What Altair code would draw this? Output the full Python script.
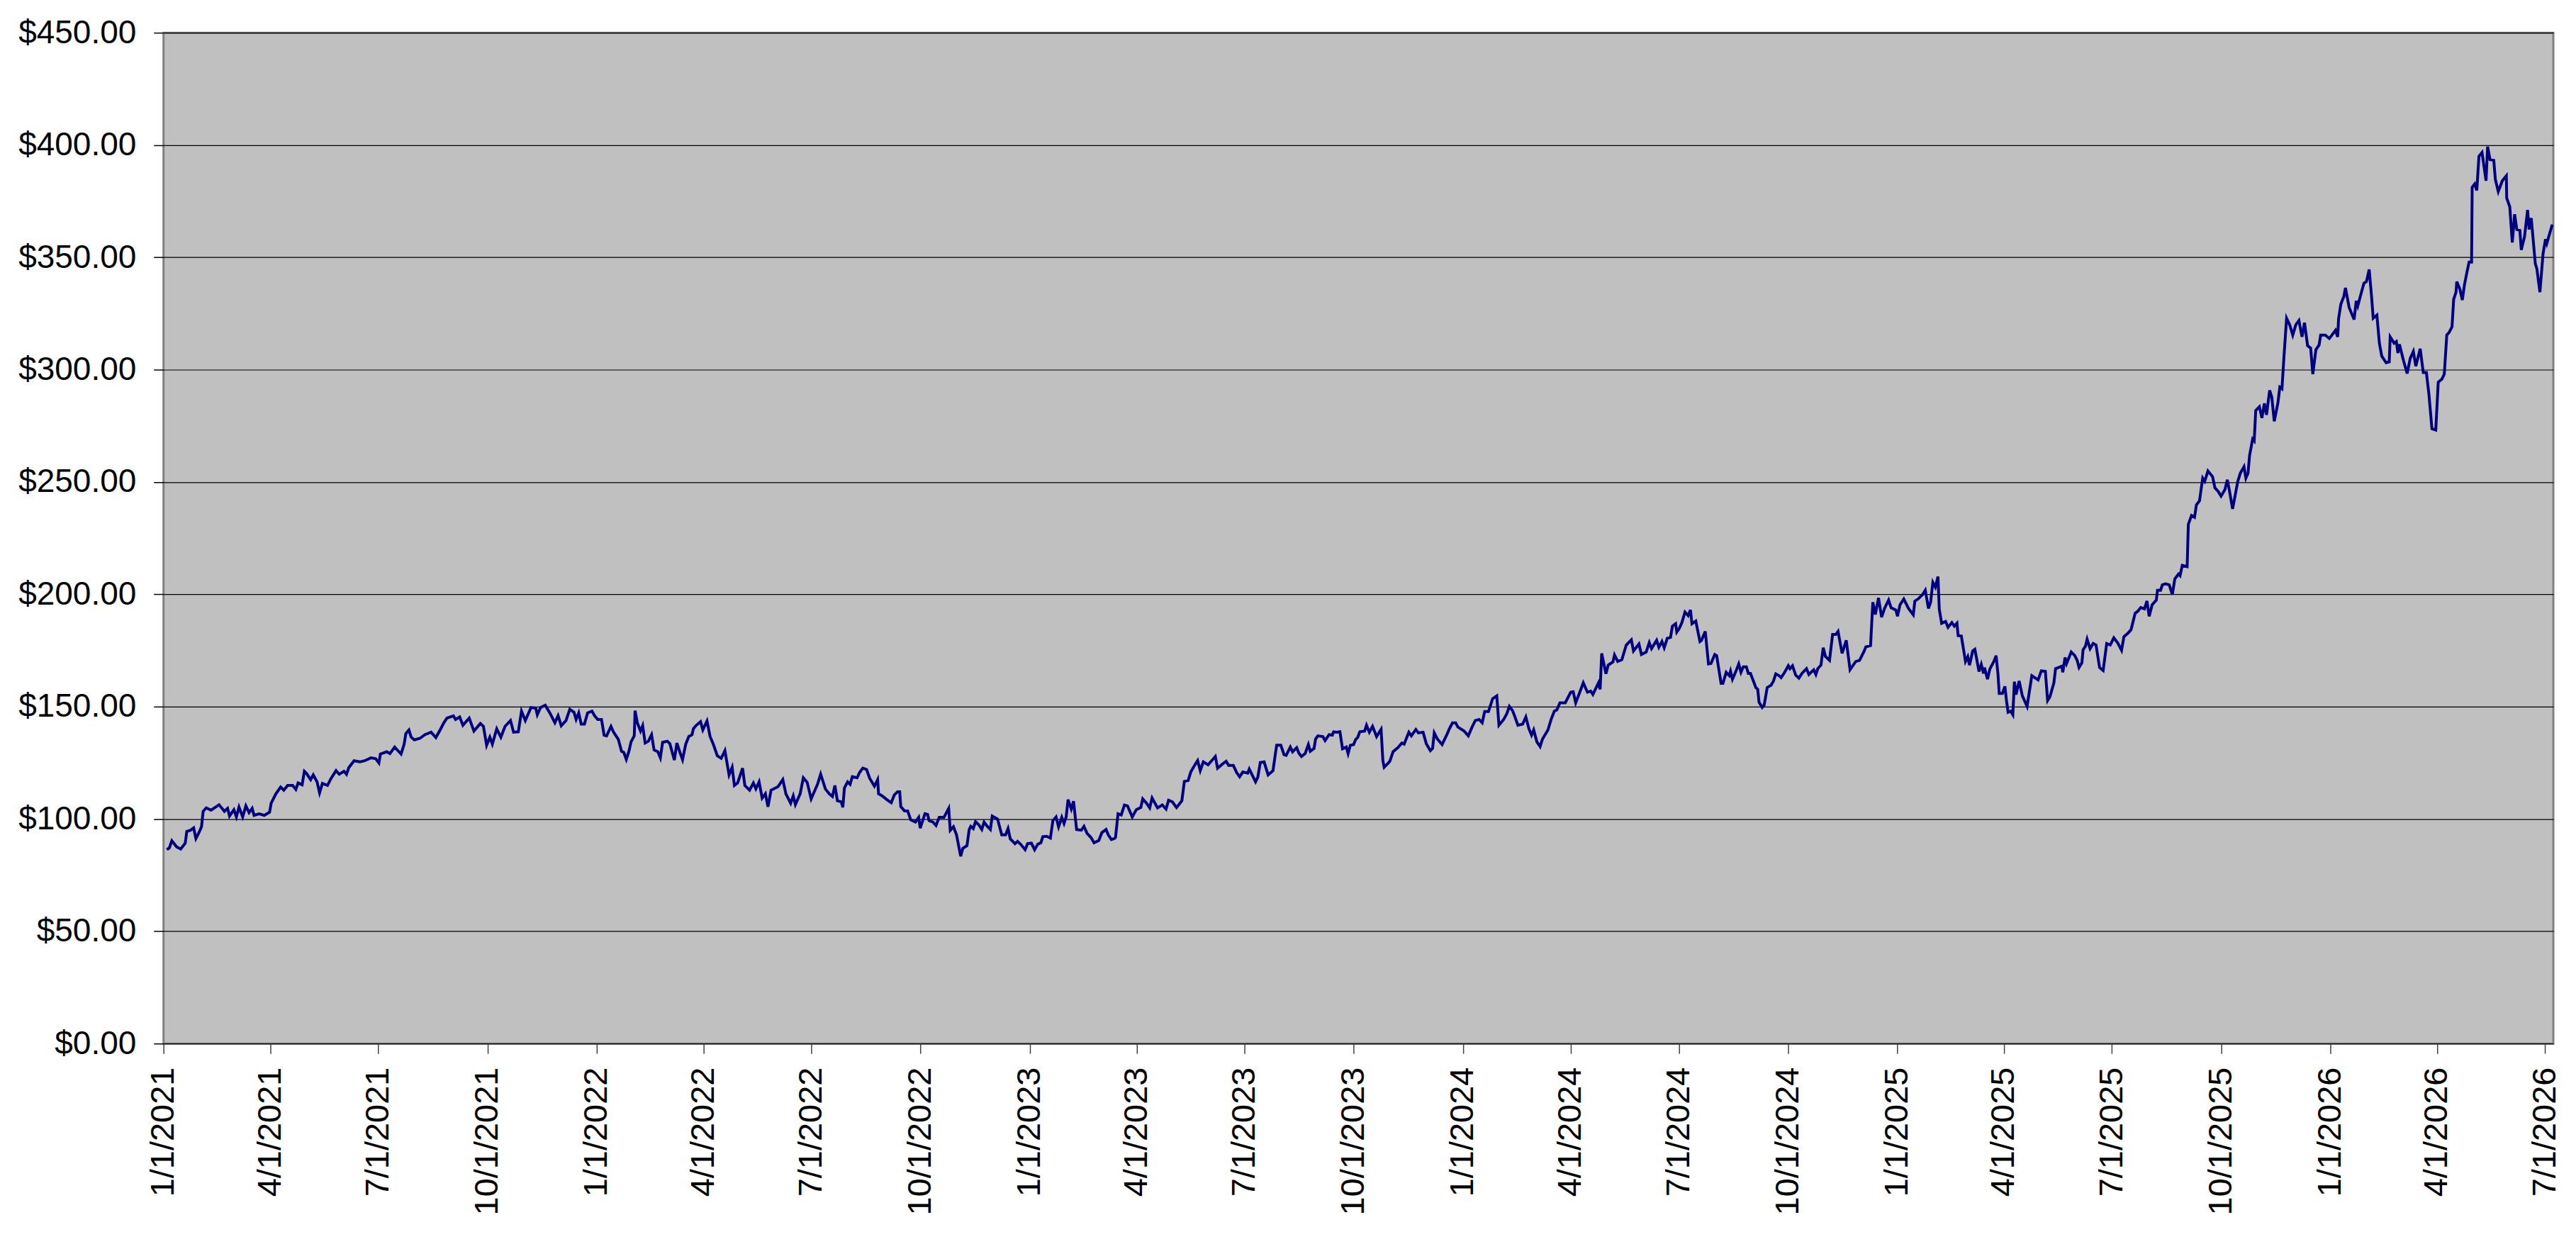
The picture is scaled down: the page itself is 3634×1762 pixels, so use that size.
import altair as alt
import pandas as pd

# (days since 1/1/2021, closing price), segment by segment
seg_2021 = [
    (2.8, 86.3), (4.9, 87.1), (7.0, 90.3), (11.0, 87.6), (14.5, 86.6), (18.3, 89.2), (19.6, 94.4),
    (22.8, 95.0), (25.4, 96.0), (27.3, 91.3), (29.4, 93.4), (32.0, 96.5), (33.4, 103.4), (36.0, 104.9),
    (40.0, 103.9), (46.8, 106.3), (51.3, 103.4), (54.0, 104.7), (55.6, 101.3), (59.3, 104.1),
    (61.4, 100.9), (63.6, 105.3), (66.7, 100.9), (69.4, 105.8), (72.1, 102.8), (74.7, 104.7),
    (76.3, 101.6), (80.6, 102.3), (84.9, 101.6), (89.4, 103.0), (90.7, 107.0), (94.7, 111.2),
    (98.7, 114.2), (101.4, 112.8), (104.6, 114.9), (108.8, 114.9), (111.5, 113.1), (113.4, 116.0),
    (116.8, 115.2), (118.7, 121.2), (120.6, 120.2), (124.0, 117.5), (126.2, 119.6), (129.4, 116.5),
    (131.5, 111.6), (133.9, 115.8), (138.2, 114.9), (140.9, 117.8), (145.4, 121.5), (148.1, 119.9),
    (152.1, 121.2), (154.2, 119.9), (156.1, 122.8), (160.6, 125.9), (165.4, 125.4), (169.5, 125.9),
    (174.8, 127.2), (178.8, 126.8), (181.5, 124.9), (182.8, 128.9), (188.1, 129.9), (190.8, 129.1),
    (194.8, 132.0), (197.0, 130.7), (200.2, 128.9), (202.8, 133.3), (204.2, 138.0), (206.8, 139.6),
    (208.7, 136.4), (211.4, 135.2), (216.2, 135.9), (220.2, 137.5), (225.5, 138.6), (229.5, 136.2),
    (233.6, 140.1), (236.2, 142.8), (238.9, 144.9), (244.3, 145.9), (246.1, 144.3), (249.6, 145.4),
    (252.3, 141.7), (257.6, 144.9), (261.6, 139.1), (267.0, 142.5), (269.6, 141.2), (272.3, 132.8),
    (275.0, 136.4), (277.1, 133.3), (280.8, 140.1), (284.3, 136.4), (287.8, 141.2), (292.4, 143.8),
    (295.0, 138.6), (299.0, 138.8), (301.7, 148.0), (304.9, 143.8), (309.7, 149.6), (313.7, 149.3),
    (315.0, 146.4), (317.7, 149.6), (321.7, 150.6), (325.8, 147.0), (329.8, 142.8), (332.5, 146.0),
    (335.2, 141.5), (339.2, 143.8), (342.4, 148.8), (345.9, 147.5), (347.7, 144.3), (349.9, 147.2),
    (352.0, 142.2), (354.7, 142.2), (357.4, 147.2), (361.1, 148.0), (363.3, 145.9),
]

seg_2022 = [
    (365.9, 144.3), (369.1, 144.3), (371.3, 137.3), (373.4, 137.0), (377.1, 141.2), (379.3, 138.6),
    (383.3, 135.4), (386.0, 130.1), (387.9, 129.6), (390.0, 126.5), (392.2, 130.1), (394.0, 134.3),
    (396.7, 137.0), (397.4, 148.2), (399.3, 142.8), (402.0, 139.1), (403.8, 141.5), (405.9, 133.8),
    (408.6, 134.6), (411.3, 137.5), (413.4, 130.7), (416.6, 129.9), (418.7, 127.2), (420.6, 134.1),
    (424.6, 134.6), (426.7, 133.5), (430.5, 126.2), (432.6, 133.8), (435.3, 129.5), (437.4, 126.4),
    (440.1, 133.3), (442.7, 136.7), (445.4, 137.5), (446.5, 140.1), (448.6, 141.5), (452.6, 143.3),
    (454.5, 139.6), (458.0, 143.6), (460.6, 136.7), (463.3, 133.3), (466.7, 128.1), (470.0, 127.0),
    (473.1, 130.4), (476.6, 119.6), (479.2, 123.0), (481.1, 114.9), (483.8, 116.0), (488.0, 122.6),
    (489.9, 114.9), (493.9, 112.8), (497.1, 116.0), (499.2, 113.4), (501.9, 116.5), (504.5, 109.3),
    (507.2, 111.2), (509.4, 105.4), (512.0, 112.8), (517.9, 114.4), (521.9, 117.5), (524.5, 111.2),
    (528.5, 107.0), (530.7, 110.3), (532.5, 106.4), (536.5, 111.2), (539.2, 118.3), (542.4, 116.3),
    (545.8, 108.9), (551.2, 115.5), (553.8, 119.9), (557.8, 113.3), (561.0, 111.2), (563.7, 110.0),
    (565.8, 114.9), (567.9, 108.1), (571.1, 107.6), (572.5, 105.2), (573.8, 113.8), (576.5, 116.5),
    (578.6, 115.4), (580.5, 118.8), (584.5, 118.3), (586.6, 120.7), (589.3, 122.6), (592.5, 122.0),
    (595.1, 118.1), (599.1, 114.6), (601.8, 117.5), (602.6, 111.2), (605.8, 110.2), (609.8, 108.5),
    (613.3, 107.2), (615.9, 110.7), (618.6, 112.1), (620.4, 112.1), (621.3, 105.5), (624.4, 103.6),
    (627.1, 103.6), (629.7, 99.6), (633.7, 98.6), (636.4, 100.7), (637.7, 95.9), (641.7, 102.3),
    (643.9, 102.0), (645.2, 99.2), (648.4, 98.6), (651.0, 97.1), (653.7, 100.7), (657.7, 100.7),
    (661.7, 104.7), (663.0, 94.9), (665.7, 96.5), (668.3, 92.9), (671.8, 83.4), (673.6, 86.9),
    (677.1, 88.1), (679.0, 95.3), (680.3, 96.7), (682.4, 95.7), (684.3, 98.8), (687.0, 97.4),
    (689.6, 95.3), (691.5, 98.6), (694.2, 96.7), (696.8, 95.3), (698.4, 101.3), (702.9, 99.9),
    (706.4, 92.9), (709.6, 92.9), (711.7, 95.7), (713.6, 91.1), (717.6, 89.0), (719.7, 90.0),
    (722.4, 88.7), (726.1, 86.3),
]

seg_2023 = [
    (728.2, 89.0), (731.4, 89.2), (734.1, 86.3), (736.7, 88.7), (739.4, 89.4), (741.0, 92.1),
    (744.2, 92.3), (747.4, 91.5), (749.5, 99.2), (752.2, 100.9), (754.3, 96.5), (757.0, 100.7),
    (758.9, 98.0), (760.7, 100.9), (762.3, 108.6), (765.0, 104.4), (766.9, 107.9), (769.5, 95.3),
    (773.5, 95.0), (775.7, 96.7), (778.3, 93.6), (781.5, 91.8), (784.2, 89.4), (788.2, 90.4),
    (790.8, 93.9), (794.3, 95.3), (796.2, 92.9), (798.8, 90.8), (801.5, 91.3), (802.3, 91.8),
    (804.4, 102.3), (807.1, 101.8), (809.8, 106.2), (812.4, 105.8), (816.4, 100.9), (819.8, 104.1),
    (823.6, 105.1), (825.2, 108.9), (828.4, 107.0), (831.1, 104.9), (833.1, 109.3), (837.7, 104.9),
    (841.7, 106.2), (844.9, 104.4), (847.0, 108.3), (850.2, 107.6), (853.7, 105.1), (858.2, 108.1),
    (860.3, 116.7), (863.5, 117.1), (865.7, 120.9), (868.9, 123.8), (871.5, 126.0), (873.7, 121.5),
    (876.3, 125.4), (880.3, 124.1), (883.8, 126.2), (886.4, 127.8), (888.3, 122.6), (892.3, 124.4),
    (895.5, 125.7), (897.6, 123.8), (901.6, 123.8), (904.3, 120.7), (906.9, 118.8), (909.6, 120.9),
    (913.7, 120.4), (915.0, 122.2), (920.3, 116.5), (922.2, 118.6), (924.3, 125.1), (927.5, 125.4),
    (930.9, 119.6), (935.0, 121.5), (937.1, 129.3), (938.1, 132.8), (941.6, 132.8), (944.3, 128.6),
    (946.1, 128.3), (949.6, 132.0), (951.5, 129.9), (955.0, 131.7), (956.8, 129.3), (959.0, 127.8),
    (962.1, 129.1), (964.8, 133.1), (966.4, 130.1), (969.6, 131.4), (970.9, 135.6), (972.8, 137.0),
    (977.0, 136.7), (978.9, 134.9), (982.3, 137.5), (985.0, 137.3), (986.1, 138.8), (988.7, 138.6),
    (991.4, 138.8), (993.6, 131.2), (996.8, 132.0), (998.3, 129.1), (1000.2, 132.8), (1002.9, 133.1),
    (1004.7, 135.4), (1006.3, 136.2), (1008.2, 138.8), (1012.2, 139.1), (1013.8, 141.7),
    (1016.2, 138.6), (1018.9, 141.2), (1022.3, 136.7), (1026.1, 139.9), (1027.6, 126.0),
    (1028.7, 123.0), (1032.2, 124.9), (1033.5, 125.7), (1036.2, 129.9), (1040.2, 131.7),
    (1043.6, 133.8), (1045.5, 133.3), (1049.5, 138.6), (1051.6, 137.0), (1055.4, 139.8),
    (1057.5, 138.3), (1061.5, 138.6), (1064.2, 133.5), (1067.6, 130.4), (1069.5, 131.4),
    (1070.9, 138.3), (1073.5, 135.6), (1077.5, 133.1), (1081.5, 137.5), (1083.6, 140.1),
    (1086.3, 142.8), (1088.9, 142.8),
]

seg_2024 = [
    (1090.8, 140.9), (1096.1, 139.1), (1099.6, 137.0), (1102.8, 140.9), (1105.5, 143.8),
    (1108.7, 144.3), (1111.3, 142.8), (1113.4, 147.8), (1116.6, 147.8), (1120.1, 153.5),
    (1123.6, 154.8), (1125.4, 141.7), (1129.4, 144.3), (1132.1, 146.9), (1134.2, 150.1),
    (1136.9, 148.2), (1138.8, 145.6), (1141.4, 141.7), (1145.4, 142.2), (1148.1, 145.4),
    (1150.7, 140.1), (1152.9, 137.3), (1154.7, 139.6), (1157.4, 134.3), (1160.1, 132.2),
    (1162.0, 135.4), (1166.7, 139.6), (1169.4, 144.3), (1172.1, 148.0), (1174.2, 148.5),
    (1176.8, 151.7), (1181.3, 151.7), (1185.9, 156.4), (1188.0, 156.6), (1190.1, 151.7),
    (1192.8, 155.4), (1196.5, 160.6), (1200.0, 156.4), (1202.7, 156.9), (1204.6, 155.4),
    (1209.3, 160.6), (1210.7, 157.7), (1212.0, 173.7), (1215.6, 164.6), (1217.5, 168.5),
    (1221.5, 169.9), (1222.8, 173.0), (1225.5, 170.1), (1229.0, 170.9), (1232.7, 177.4),
    (1237.0, 179.7), (1238.8, 174.8), (1243.4, 177.9), (1245.5, 173.2), (1249.5, 174.3),
    (1252.1, 178.5), (1254.0, 175.8), (1258.3, 179.5), (1260.2, 176.4), (1262.8, 179.0),
    (1264.7, 176.2), (1267.3, 180.4), (1270.0, 180.8), (1271.6, 185.8), (1274.3, 186.9),
    (1275.3, 183.2), (1277.4, 184.8), (1279.6, 187.4), (1282.2, 192.1), (1284.9, 190.5),
    (1286.8, 193.0), (1288.1, 186.9), (1291.3, 188.1), (1294.8, 179.0), (1296.1, 179.5),
    (1299.3, 183.5), (1302.0, 169.0), (1304.1, 169.2), (1307.3, 173.2), (1308.9, 172.7),
    (1312.6, 160.4), (1314.2, 160.4), (1316.9, 165.3), (1319.5, 163.8), (1320.6, 165.8),
    (1322.2, 162.2), (1324.8, 165.3), (1327.5, 169.0), (1329.4, 165.3), (1331.3, 167.7),
    (1333.9, 167.7), (1335.6, 164.8), (1337.4, 164.8), (1340.1, 161.1), (1341.9, 158.5),
    (1343.5, 157.7), (1344.6, 152.0), (1347.3, 149.6), (1348.9, 150.6), (1351.5, 158.5),
    (1354.7, 159.5), (1356.8, 161.4), (1358.7, 164.6), (1361.4, 163.8), (1363.2, 162.9),
    (1365.9, 165.0), (1369.3, 168.2), (1370.7, 166.9), (1372.8, 168.2), (1375.5, 164.0),
    (1378.2, 162.7), (1380.8, 164.8), (1384.6, 166.9), (1386.6, 164.3), (1390.7, 166.4),
    (1392.5, 164.3), (1394.1, 166.9), (1396.8, 168.5), (1398.7, 176.2), (1400.5, 172.4),
    (1404.0, 170.6), (1406.6, 182.1), (1409.3, 182.1), (1411.2, 183.5), (1414.6, 173.7),
    (1418.1, 179.5), (1421.3, 166.4), (1426.1, 170.1), (1429.3, 170.6), (1433.3, 174.8),
    (1434.6, 176.6), (1438.6, 177.2), (1440.5, 196.5), (1442.6, 191.0), (1445.3, 198.4),
    (1447.9, 189.8), (1450.6, 194.0), (1453.8, 197.4),
]

seg_2025 = [
    (1455.9, 194.0), (1459.9, 193.0), (1461.3, 190.2), (1463.4, 195.3), (1466.6, 197.9),
    (1470.6, 193.7), (1474.6, 190.9), (1475.9, 196.9), (1478.6, 197.9), (1482.6, 200.0),
    (1484.7, 201.8), (1487.4, 193.7), (1489.2, 196.5), (1491.1, 205.3), (1493.2, 203.2),
    (1495.4, 207.9), (1496.5, 193.4), (1498.5, 187.1), (1501.8, 187.9), (1503.9, 185.3),
    (1507.1, 187.4), (1509.2, 185.8), (1511.4, 187.1), (1512.4, 181.6), (1515.1, 181.4),
    (1518.6, 170.1), (1520.5, 172.2), (1522.0, 168.5), (1524.7, 174.8), (1526.5, 175.5),
    (1530.0, 165.6), (1531.9, 168.8), (1533.8, 164.8), (1534.6, 167.4), (1537.2, 162.2),
    (1539.1, 166.7), (1542.5, 170.1), (1544.4, 172.7), (1546.0, 164.3), (1547.0, 155.9),
    (1549.7, 155.9), (1551.8, 159.0), (1553.2, 152.4), (1554.5, 147.5), (1556.7, 148.0),
    (1558.5, 146.4), (1559.8, 161.1), (1561.2, 155.4), (1563.8, 161.4), (1566.5, 154.8),
    (1570.5, 150.1), (1574.5, 163.8), (1579.8, 161.9), (1582.5, 165.9), (1585.9, 165.7),
    (1587.8, 152.7), (1589.7, 154.3), (1593.1, 160.6), (1594.5, 166.9), (1597.1, 167.4),
    (1599.8, 168.0), (1600.6, 165.3), (1602.5, 171.9), (1603.8, 169.2), (1607.7, 174.3),
    (1610.7, 172.7), (1612.7, 170.6), (1614.3, 167.4), (1616.7, 169.5), (1617.7, 175.3),
    (1619.7, 176.9), (1621.1, 180.0), (1623.6, 175.8), (1626.2, 178.1), (1628.6, 177.4),
    (1631.6, 167.4), (1634.6, 166.1), (1637.6, 178.1), (1640.6, 177.4), (1643.6, 180.6),
    (1646.9, 178.3), (1650.1, 175.1), (1652.1, 181.1), (1655.5, 182.7), (1658.1, 184.2),
    (1661.6, 191.6), (1663.7, 192.4), (1666.3, 194.1), (1669.4, 193.5), (1671.5, 197.0),
    (1673.4, 190.2), (1675.9, 195.3), (1679.4, 197.4), (1680.4, 201.8), (1683.0, 201.8),
    (1684.5, 204.2), (1687.2, 204.7), (1690.3, 204.2), (1692.9, 199.9), (1695.0, 206.8),
    (1698.1, 209.0), (1699.4, 208.3), (1701.3, 212.9), (1705.4, 212.3), (1706.4, 231.2),
    (1709.1, 235.1), (1711.6, 234.3), (1713.2, 239.8), (1715.8, 241.6), (1718.5, 251.7),
    (1720.2, 250.3), (1722.9, 254.9), (1726.8, 252.4), (1728.8, 247.4), (1731.4, 245.9),
    (1734.0, 243.7), (1737.2, 246.6), (1739.3, 251.0), (1741.1, 245.9), (1743.7, 238.0),
    (1748.1, 250.3), (1750.2, 253.9), (1753.3, 256.8), (1754.9, 251.7), (1756.7, 253.9),
    (1758.0, 261.8), (1760.6, 269.1), (1761.9, 268.3), (1763.2, 281.8), (1766.3, 283.5),
    (1768.4, 278.5), (1770.5, 285.0), (1772.3, 279.9), (1774.9, 290.8), (1776.7, 287.9),
    (1778.8, 277.0), (1781.9, 285.3), (1783.5, 292.2), (1785.3, 291.5), (1787.1, 306.7),
    (1789.2, 322.9), (1791.8, 320.0), (1794.4, 315.4), (1797.0, 320.0), (1799.6, 321.9),
    (1802.2, 314.6), (1804.3, 320.9), (1806.9, 310.7), (1809.5, 309.6), (1811.3, 298.0),
    (1813.9, 308.9), (1816.6, 311.0), (1817.9, 315.4), (1821.8, 315.4),
]

seg_2026 = [
    (1825.2, 313.9), (1827.0, 315.1), (1830.4, 317.5), (1832.3, 314.6), (1833.0, 322.6),
    (1834.9, 329.1), (1837.5, 332.7), (1838.8, 336.4), (1841.9, 327.7), (1846.1, 322.3),
    (1847.9, 330.6), (1849.2, 328.4), (1851.8, 333.5), (1854.4, 338.5), (1856.5, 339.2),
    (1858.8, 344.6), (1860.9, 332.0), (1862.2, 322.9), (1865.3, 324.3), (1867.4, 311.8),
    (1869.4, 306.0), (1873.1, 303.1), (1875.7, 303.5), (1876.5, 314.6), (1879.8, 311.8),
    (1881.7, 312.5), (1883.0, 307.4), (1884.3, 311.3), (1887.7, 304.1), (1890.8, 298.3),
    (1893.4, 305.0), (1896.0, 308.1), (1898.1, 301.6), (1901.8, 309.3), (1904.4, 298.7),
    (1907.0, 298.7), (1909.1, 289.3), (1911.7, 273.7), (1914.9, 273.1), (1917.0, 294.4),
    (1920.1, 295.8), (1922.1, 298.0), (1924.2, 315.4), (1926.1, 316.5), (1928.6, 319.0),
    (1930.0, 331.3), (1932.0, 334.5), (1932.6, 339.2), (1935.2, 335.9), (1937.3, 331.0),
    (1939.1, 337.8), (1941.0, 342.9), (1943.0, 347.9), (1945.1, 347.9), (1945.6, 381.2),
    (1947.7, 382.7), (1949.5, 379.8), (1951.3, 395.0), (1953.9, 396.7), (1957.3, 384.1),
    (1958.6, 399.3), (1960.7, 393.5), (1963.8, 393.2), (1965.1, 384.8), (1967.6, 379.3),
    (1971.0, 384.1), (1974.4, 386.3), (1974.7, 376.4), (1977.3, 372.5), (1979.4, 356.6),
    (1981.4, 369.2), (1983.2, 362.4), (1985.8, 362.0), (1987.0, 353.3), (1989.7, 359.1),
    (1992.3, 371.1), (1993.6, 362.4), (1995.4, 367.5), (1998.8, 347.2), (2000.1, 345.0),
    (2002.7, 334.5), (2005.3, 351.5), (2007.4, 358.1), (2008.5, 356.2), (2013.1, 364.6),
]

y_tick_values = [0, 50, 100, 150, 200, 250, 300, 350, 400, 450]
x_tick_months = [(y, m) for y in range(2021, 2027) for m in (1, 4, 7, 10) if (y, m) <= (2026, 7)]

rows = seg_2021 + seg_2022 + seg_2023 + seg_2024 + seg_2025 + seg_2026
base = pd.Timestamp("2021-01-01", tz="UTC")
df = pd.DataFrame(rows, columns=["day", "price"])
df["date"] = [(base + pd.Timedelta(days=d)).strftime("%Y-%m-%dT%H:%M:%SZ") for d in df["day"]]

FONT = "Liberation Sans, Arial, sans-serif"

x_values = [alt.DateTime(year=y, month=m, date=1, utc=True) for (y, m) in x_tick_months]

chart = (
    alt.Chart(df)
    .mark_line(color="#000080", strokeWidth=4, clip=True)
    .encode(
        x=alt.X(
            "date:T",
            scale=alt.Scale(
                type="utc",
                domain=[
                    alt.DateTime(year=2021, month=1, date=1, utc=True),
                    alt.DateTime(year=2026, month=7, date=8, utc=True),
                ],
                nice=False,
            ),
            axis=alt.Axis(
                values=x_values,
                labelExpr="utcFormat(datum.value, '%-m/%-d/%Y')",
                labelAngle=270,
                labelFontSize=47,
                labelFont=FONT,
                labelColor="#000000",
                labelPadding=19,
                labelLimit=0,
                tickSize=14,
                tickColor="#404040",
                tickWidth=1.5,
                domain=False,
                grid=False,
                title=None,
                labelOverlap=False,
                labelBound=False,
                labelFlush=False,
            ),
        ),
        y=alt.Y(
            "price:Q",
            scale=alt.Scale(domain=[0, 450], nice=False, zero=True),
            axis=alt.Axis(
                values=y_tick_values,
                format="$.2f",
                labelFontSize=46,
                labelFont=FONT,
                labelColor="#000000",
                labelPadding=25,
                labelLimit=0,
                tickSize=14,
                tickColor="#000000",
                tickWidth=1.5,
                domain=False,
                grid=True,
                gridColor="#000000",
                gridWidth=1.2,
                title=None,
                labelOverlap=False,
                labelFlush=False,
            ),
        ),
        order="day:Q",
    )
    .properties(
        width=3376,
        height=1428,
        autosize=alt.AutoSizeParams(type="none"),
        padding={"left": 223, "top": 37, "right": 24, "bottom": 280},
        background="#FFFFFF",
    )
    .configure_view(fill="#C0C0C0", stroke="#808080", strokeWidth=3)
)

chart.save("out.html", embed_options={"renderer": "svg", "actions": False})
